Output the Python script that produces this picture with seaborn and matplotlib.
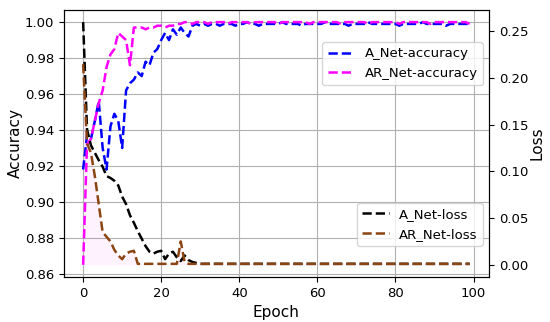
import numpy as np
import seaborn as sns
from matplotlib import pyplot as plt

epochs = list(range(100))

a_acc = [0.918, 0.937, 0.935, 0.945, 0.956, 0.930, 0.918, 0.942, 0.949, 0.945,
         0.930, 0.962, 0.966, 0.968, 0.972, 0.970, 0.978, 0.976, 0.983, 0.985,
         0.990, 0.994, 0.990, 0.996, 0.993, 0.997, 0.994, 0.992, 0.998, 0.999,
         0.998, 0.999, 0.998, 0.999, 0.999, 0.998, 0.999, 0.999, 0.999, 0.998,
         0.999, 0.999, 1.000, 0.999, 0.999, 0.998, 0.999, 0.999, 0.999, 0.999,
         0.999, 1.000, 0.999, 0.999, 0.999, 0.999, 0.998, 0.999, 0.999, 0.999,
         0.999, 0.999, 1.000, 0.999, 0.999, 0.999, 0.999, 0.999, 0.998, 0.999,
         0.999, 0.999, 0.999, 1.000, 0.999, 0.999, 0.999, 0.999, 0.999, 0.999,
         0.999, 0.998, 0.999, 0.999, 0.999, 0.999, 0.999, 1.000, 0.999, 0.999,
         0.999, 0.999, 0.999, 0.998, 0.999, 0.999, 0.999, 0.999, 0.999, 0.999]

ar_acc = [0.865, 0.932, 0.935, 0.945, 0.955, 0.962, 0.975, 0.982, 0.985, 0.994,
          0.992, 0.990, 0.976, 0.997, 0.997, 0.997, 0.996, 0.997, 0.997, 0.998,
          0.998, 0.997, 0.998, 0.998, 0.999,
          0.999, 1.000, 1.000, 0.999, 1.000, 1.000, 1.000, 0.999, 1.000, 1.000,
          1.000, 1.000, 0.999, 1.000, 1.000, 1.000, 1.000, 1.000, 0.999, 1.000,
          1.000, 1.000, 1.000, 1.000, 1.000, 0.999, 1.000, 1.000, 1.000, 1.000,
          1.000, 1.000, 1.000, 0.999, 1.000, 1.000, 1.000, 1.000, 1.000, 1.000,
          1.000, 0.999, 1.000, 1.000, 1.000, 1.000, 1.000, 1.000, 0.999, 1.000,
          1.000, 1.000, 1.000, 1.000, 1.000, 1.000, 0.999, 1.000, 1.000, 1.000,
          1.000, 1.000, 1.000, 1.000, 0.999, 1.000, 1.000, 1.000, 1.000, 1.000,
          1.000, 1.000, 1.000, 1.000, 0.999]

a_loss = [0.260, 0.145, 0.128, 0.120, 0.112, 0.105, 0.095, 0.093, 0.090, 0.085,
          0.073, 0.065, 0.053, 0.045, 0.036, 0.028, 0.020, 0.014, 0.012, 0.014,
          0.015, 0.006, 0.012, 0.014, 0.008, 0.004, 0.010, 0.005, 0.003, 0.002] + [0.001] * 70

ar_loss = [0.215, 0.130, 0.120, 0.095, 0.065, 0.035, 0.030, 0.025, 0.016, 0.010,
           0.006, 0.012, 0.014, 0.015, 0.001, 0.001, 0.001, 0.001, 0.001, 0.001,
           0.001, 0.001, 0.001, 0.001, 0.001, 0.025, 0.003] + [0.001] * 73

fig, ax1 = plt.subplots(figsize=(5.5, 3.22), dpi=100)
fig.subplots_adjust(left=0.116, right=0.889, top=0.969, bottom=0.14)

sns.lineplot(x=epochs, y=a_acc, ax=ax1, color='blue', linestyle='--', linewidth=1.8, label='A_Net-accuracy')
sns.lineplot(x=epochs, y=ar_acc, ax=ax1, color='magenta', linestyle='--', linewidth=1.8, label='AR_Net-accuracy')
ax1.grid(True, color='#b0b0b0', linewidth=0.8)
ax1.set_xlabel('Epoch', fontsize=11)
ax1.set_ylabel('Accuracy', fontsize=11, labelpad=1)
ax1.tick_params(labelsize=9.5)
ax1.legend(loc='upper right', bbox_to_anchor=(0.986, 0.88), borderaxespad=0, fontsize=9.5)

ax2 = ax1.twinx()
ax2.fill_between(epochs, 0, ar_loss, color='magenta', alpha=0.05, linewidth=0)
sns.lineplot(x=epochs, y=a_loss, ax=ax2, color='black', linestyle='--', linewidth=1.8, label='A_Net-loss')
sns.lineplot(x=epochs, y=ar_loss, ax=ax2, color='#8B4513', linestyle='--', linewidth=1.8, label='AR_Net-loss')
ax2.set_ylabel('Loss', fontsize=11, labelpad=1)
ax2.tick_params(labelsize=9.5)
ax2.legend(loc='lower right', bbox_to_anchor=(0.986, 0.116), borderaxespad=0, fontsize=9.5)

fig.savefig('out.png')
